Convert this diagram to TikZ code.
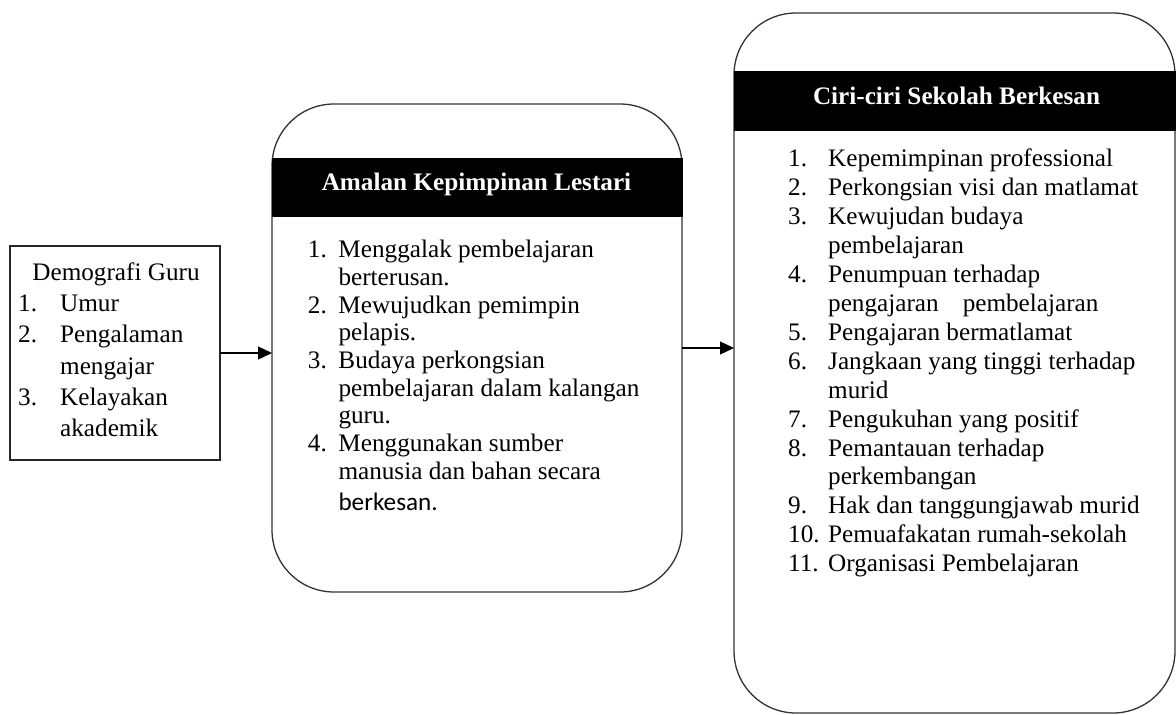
\documentclass[tikz,border=0pt]{standalone}
\usepackage{fontspec}
\setmainfont{Liberation Serif}
\newfontfamily\carlito{Carlito}
\usetikzlibrary{arrows.meta}
\tikzset{
  roundbox/.style={draw=black!80, line width=1.3pt, rounded corners=62pt, inner sep=0pt, outer sep=0pt, fill=white},
  plainbox/.style={draw=black!85, line width=1.3pt, inner sep=0pt, outer sep=0pt},
  headbar/.style={fill=black, draw=black, line width=0.8pt, inner sep=0pt, outer sep=0pt},
  titletext/.style={text=white, font=\fontsize{25.2}{28}\selectfont\bfseries, inner sep=0pt, anchor=base},
  plaintext/.style={inner sep=0pt, anchor=base west},
  flowarrow/.style={draw=black, line width=1.3pt, -{Triangle[length=14pt,width=13pt]}}
}
\begin{document}
\begin{tikzpicture}[x=1pt,y=-1pt]
\useasboundingbox (0,0) rectangle (1176,715);

% boxes
\node[plainbox, minimum width=210pt, minimum height=214pt] (demo) at (115,353) {};
\node[roundbox, minimum width=410pt, minimum height=488pt] (amalan) at (477,348) {};
\node[roundbox, minimum width=441pt, minimum height=700pt] (ciri) at (954.5,363) {};

% header bars
\node[headbar, minimum width=410pt, minimum height=58pt] (amalanhead) at (477,187) {};
\node[headbar, minimum width=441pt, minimum height=59pt] (cirihead) at (954.5,100.5) {};

% titles
\node[titletext] (amalantitle) at (476.5,190.7) {Amalan Kepimpinan Lestari};
\node[titletext] (cirititle) at (956.5,104) {Ciri-ciri Sekolah Berkesan};

% left box text
\node[inner sep=0pt, anchor=base, font=\fontsize{25.2}{31.25}\selectfont] (demotitle) at (116,280) {Demografi Guru};
\node[plaintext, font=\fontsize{25.2}{31.25}\selectfont] (demolist) at (18,311.7) {%
\begin{tabular}[t]{@{}p{42pt}@{}l@{}}
1. & Umur\\
2. & Pengalaman\\
   & mengajar\\
3. & Kelayakan\\
   & akademik
\end{tabular}};

% middle list
\node[plaintext, font=\fontsize{25.2}{27.7}\selectfont] (amalanlist) at (307.7,257.7) {%
\begin{tabular}[t]{@{}p{30.6pt}@{}l@{}}
1. & Menggalak pembelajaran\\
   & berterusan.\\
2. & Mewujudkan pemimpin\\
   & pelapis.\\
3. & Budaya perkongsian\\
   & pembelajaran dalam kalangan\\
   & guru.\\
4. & Menggunakan sumber\\
   & manusia dan bahan secara\\[3pt]
   & {\carlito berkesan.}
\end{tabular}};

% right list
\node[plaintext, font=\fontsize{25.2}{28.93}\selectfont] (cirilist) at (788,166.7) {%
\begin{tabular}[t]{@{}p{40pt}@{}l@{}}
1. & Kepemimpinan professional\\
2. & Perkongsian visi dan matlamat\\
3. & Kewujudan budaya\\
   & pembelajaran\\
4. & Penumpuan terhadap\\
   & pengajaran\hspace{24pt}pembelajaran\\
5. & Pengajaran bermatlamat\\
6. & Jangkaan yang tinggi terhadap\\
   & murid\\
7. & Pengukuhan yang positif\\
8. & Pemantauan terhadap\\
   & perkembangan\\
9. & Hak dan tanggungjawab murid\\
10. & Pemuafakatan rumah-sekolah\\
11. & Organisasi Pembelajaran
\end{tabular}};

% connectors
\draw[flowarrow] (demo.east) -- (demo.east -| amalan.west);
\draw[flowarrow] (amalan.east) -- (amalan.east -| ciri.west);
\end{tikzpicture}
\end{document}
